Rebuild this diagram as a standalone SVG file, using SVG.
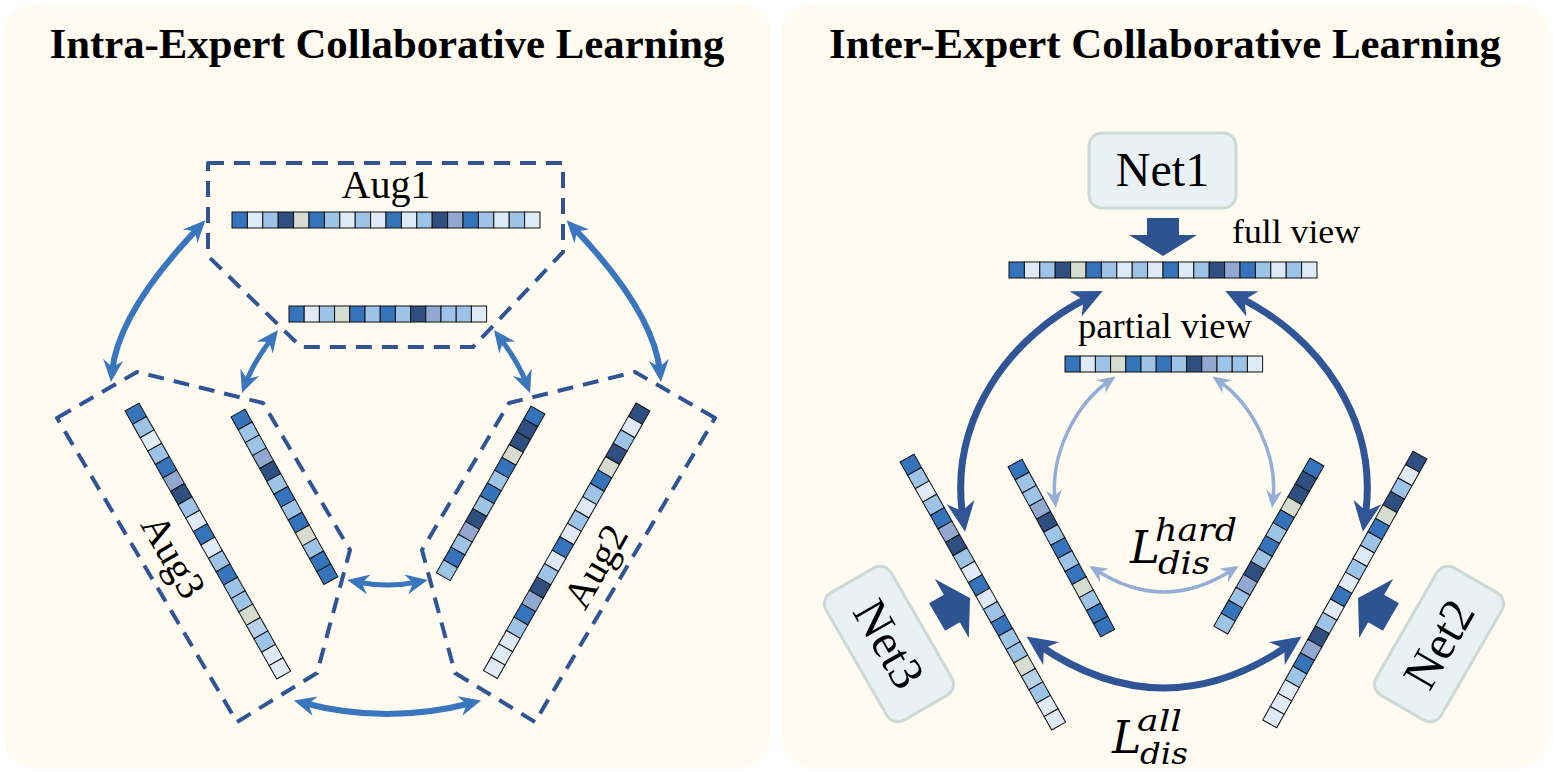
<svg xmlns="http://www.w3.org/2000/svg" width="1553" height="772" viewBox="0 0 1553 772">
<style>
.panel{fill:#FFFBF1}
.title{font-family:"Liberation Serif",serif;font-weight:bold;font-size:42px;fill:#000}
.lbl{font-family:"Liberation Serif",serif;fill:#000}
.math{font-family:"DejaVu Serif",serif;font-style:italic;fill:#000}
.cell{stroke:#111;stroke-width:1}
.a{fill:#3573BA}.b{fill:#DEEAF6}.c{fill:#9DC3E6}.d{fill:#2F4F80}.e{fill:#D6DCCF}.f{fill:#93A8D0}.g{fill:#B9D2EC}
.dash{fill:none;stroke:#2F5597;stroke-width:4;stroke-dasharray:16 10;stroke-linejoin:round}
.arrL{fill:none;stroke:#3A76BE;stroke-width:6;marker-start:url(#mL);marker-end:url(#mL)}
.arrLs{fill:none;stroke:#3A76BE;stroke-width:5;marker-start:url(#mL);marker-end:url(#mL)}
.arrD{fill:none;stroke:#2F5597;stroke-width:7;marker-start:url(#mD);marker-end:url(#mD)}
.arrT{fill:none;stroke:#95AED6;stroke-width:3.5;marker-start:url(#mT);marker-end:url(#mT)}
.netbox{fill:#EAF1F5;stroke:#CCD9D5;stroke-width:3}
.blk{fill:#2E5391}
</style>
<defs>
<marker id="mL" markerUnits="userSpaceOnUse" viewBox="-24 -12 26 24" markerWidth="26" markerHeight="24" refX="-10" refY="0" orient="auto-start-reverse"><path d="M0,0 L-22,-10 L-15,0 L-22,10 Z" fill="#3A76BE"/></marker>
<marker id="mD" markerUnits="userSpaceOnUse" viewBox="-32 -16 34 32" markerWidth="34" markerHeight="32" refX="-14" refY="0" orient="auto-start-reverse"><path d="M0,0 L-30,-14 L-21,0 L-30,14 Z" fill="#2F5597"/></marker>
<marker id="mT" markerUnits="userSpaceOnUse" viewBox="-20 -10 22 20" markerWidth="22" markerHeight="20" refX="-8" refY="0" orient="auto-start-reverse"><path d="M0,0 L-18,-8 L-12,0 L-18,8 Z" fill="#95AED6"/></marker>
<g id="barH20">
<rect class="cell a" x="0" y="-8" width="15.4" height="16"/><rect class="cell b" x="15.4" y="-8" width="15.4" height="16"/><rect class="cell c" x="30.8" y="-8" width="15.4" height="16"/><rect class="cell d" x="46.2" y="-8" width="15.4" height="16"/><rect class="cell e" x="61.6" y="-8" width="15.4" height="16"/><rect class="cell a" x="77" y="-8" width="15.4" height="16"/><rect class="cell c" x="92.4" y="-8" width="15.4" height="16"/><rect class="cell b" x="107.8" y="-8" width="15.4" height="16"/><rect class="cell c" x="123.2" y="-8" width="15.4" height="16"/><rect class="cell b" x="138.6" y="-8" width="15.4" height="16"/><rect class="cell a" x="154" y="-8" width="15.4" height="16"/><rect class="cell b" x="169.4" y="-8" width="15.4" height="16"/><rect class="cell c" x="184.8" y="-8" width="15.4" height="16"/><rect class="cell d" x="200.2" y="-8" width="15.4" height="16"/><rect class="cell f" x="215.6" y="-8" width="15.4" height="16"/><rect class="cell a" x="231" y="-8" width="15.4" height="16"/><rect class="cell c" x="246.4" y="-8" width="15.4" height="16"/><rect class="cell b" x="261.8" y="-8" width="15.4" height="16"/><rect class="cell c" x="277.2" y="-8" width="15.4" height="16"/><rect class="cell b" x="292.6" y="-8" width="15.4" height="16"/>
</g>
<g id="barH13">
<rect class="cell a" x="0" y="-8" width="15.2" height="16"/><rect class="cell b" x="15.2" y="-8" width="15.2" height="16"/><rect class="cell c" x="30.4" y="-8" width="15.2" height="16"/><rect class="cell e" x="45.6" y="-8" width="15.2" height="16"/><rect class="cell a" x="60.8" y="-8" width="15.2" height="16"/><rect class="cell c" x="76" y="-8" width="15.2" height="16"/><rect class="cell a" x="91.2" y="-8" width="15.2" height="16"/><rect class="cell c" x="106.4" y="-8" width="15.2" height="16"/><rect class="cell d" x="121.6" y="-8" width="15.2" height="16"/><rect class="cell f" x="136.8" y="-8" width="15.2" height="16"/><rect class="cell c" x="152" y="-8" width="15.2" height="16"/><rect class="cell c" x="167.2" y="-8" width="15.2" height="16"/><rect class="cell b" x="182.4" y="-8" width="15.2" height="16"/>
</g>
<g id="barL20">
<rect class="cell a" x="0" y="-8" width="15.4" height="16"/><rect class="cell c" x="15.4" y="-8" width="15.4" height="16"/><rect class="cell b" x="30.8" y="-8" width="15.4" height="16"/><rect class="cell c" x="46.2" y="-8" width="15.4" height="16"/><rect class="cell a" x="61.6" y="-8" width="15.4" height="16"/><rect class="cell f" x="77" y="-8" width="15.4" height="16"/><rect class="cell d" x="92.4" y="-8" width="15.4" height="16"/><rect class="cell c" x="107.8" y="-8" width="15.4" height="16"/><rect class="cell b" x="123.2" y="-8" width="15.4" height="16"/><rect class="cell a" x="138.6" y="-8" width="15.4" height="16"/><rect class="cell b" x="154" y="-8" width="15.4" height="16"/><rect class="cell c" x="169.4" y="-8" width="15.4" height="16"/><rect class="cell a" x="184.8" y="-8" width="15.4" height="16"/><rect class="cell c" x="200.2" y="-8" width="15.4" height="16"/><rect class="cell c" x="215.6" y="-8" width="15.4" height="16"/><rect class="cell e" x="231" y="-8" width="15.4" height="16"/><rect class="cell g" x="246.4" y="-8" width="15.4" height="16"/><rect class="cell c" x="261.8" y="-8" width="15.4" height="16"/><rect class="cell b" x="277.2" y="-8" width="15.4" height="16"/><rect class="cell b" x="292.6" y="-8" width="15.4" height="16"/>
</g>
<g id="barL13">
<rect class="cell a" x="0" y="-8" width="15.2" height="16"/><rect class="cell c" x="15.2" y="-8" width="15.2" height="16"/><rect class="cell c" x="30.4" y="-8" width="15.2" height="16"/><rect class="cell f" x="45.6" y="-8" width="15.2" height="16"/><rect class="cell d" x="60.8" y="-8" width="15.2" height="16"/><rect class="cell c" x="76" y="-8" width="15.2" height="16"/><rect class="cell a" x="91.2" y="-8" width="15.2" height="16"/><rect class="cell c" x="106.4" y="-8" width="15.2" height="16"/><rect class="cell a" x="121.6" y="-8" width="15.2" height="16"/><rect class="cell e" x="136.8" y="-8" width="15.2" height="16"/><rect class="cell c" x="152" y="-8" width="15.2" height="16"/><rect class="cell a" x="167.2" y="-8" width="15.2" height="16"/><rect class="cell a" x="182.4" y="-8" width="15.2" height="16"/>
</g>
<g id="barR13">
<rect class="cell a" x="0" y="-8" width="15.2" height="16"/><rect class="cell d" x="15.2" y="-8" width="15.2" height="16"/><rect class="cell d" x="30.4" y="-8" width="15.2" height="16"/><rect class="cell e" x="45.6" y="-8" width="15.2" height="16"/><rect class="cell a" x="60.8" y="-8" width="15.2" height="16"/><rect class="cell c" x="76" y="-8" width="15.2" height="16"/><rect class="cell a" x="91.2" y="-8" width="15.2" height="16"/><rect class="cell c" x="106.4" y="-8" width="15.2" height="16"/><rect class="cell d" x="121.6" y="-8" width="15.2" height="16"/><rect class="cell f" x="136.8" y="-8" width="15.2" height="16"/><rect class="cell c" x="152" y="-8" width="15.2" height="16"/><rect class="cell a" x="167.2" y="-8" width="15.2" height="16"/><rect class="cell c" x="182.4" y="-8" width="15.2" height="16"/>
</g>
<g id="barR20">
<rect class="cell d" x="0" y="-8" width="15.4" height="16"/><rect class="cell b" x="15.4" y="-8" width="15.4" height="16"/><rect class="cell c" x="30.8" y="-8" width="15.4" height="16"/><rect class="cell d" x="46.2" y="-8" width="15.4" height="16"/><rect class="cell e" x="61.6" y="-8" width="15.4" height="16"/><rect class="cell a" x="77" y="-8" width="15.4" height="16"/><rect class="cell c" x="92.4" y="-8" width="15.4" height="16"/><rect class="cell b" x="107.8" y="-8" width="15.4" height="16"/><rect class="cell c" x="123.2" y="-8" width="15.4" height="16"/><rect class="cell b" x="138.6" y="-8" width="15.4" height="16"/><rect class="cell a" x="154" y="-8" width="15.4" height="16"/><rect class="cell b" x="169.4" y="-8" width="15.4" height="16"/><rect class="cell c" x="184.8" y="-8" width="15.4" height="16"/><rect class="cell d" x="200.2" y="-8" width="15.4" height="16"/><rect class="cell f" x="215.6" y="-8" width="15.4" height="16"/><rect class="cell a" x="231" y="-8" width="15.4" height="16"/><rect class="cell c" x="246.4" y="-8" width="15.4" height="16"/><rect class="cell b" x="261.8" y="-8" width="15.4" height="16"/><rect class="cell b" x="277.2" y="-8" width="15.4" height="16"/><rect class="cell b" x="292.6" y="-8" width="15.4" height="16"/>
</g>
<polygon id="blkArrow" class="blk" points="0,0 -21,-34 -21,-16 -38,-16 -38,16 -21,16 -21,34"/>
</defs>

<rect id="panel-left" class="panel" x="3" y="3" width="768" height="766" rx="35"/>
<rect id="panel-right" class="panel" x="781" y="3" width="769" height="766" rx="35"/>

<text id="title-left" class="title" x="387" y="58" text-anchor="middle" textLength="675" lengthAdjust="spacingAndGlyphs">Intra-Expert Collaborative Learning</text>
<text id="title-right" class="title" x="1165" y="58" text-anchor="middle" textLength="672" lengthAdjust="spacingAndGlyphs">Inter-Expert Collaborative Learning</text>

<g id="aug1">
<path class="dash" d="M208 163 L563 163 L563 252 L473 347 L301 347 L208 256 Z"/>
<text class="lbl" x="386" y="198" font-size="40" text-anchor="middle">Aug1</text>
<use href="#barH20" transform="translate(232,220)"/>
<use href="#barH13" transform="translate(289,314)"/>
</g>
<g id="aug3">
<path class="dash" d="M57 418 L137 372 L263 403 L350 550 L317 673 L237 722 Z"/>
<use href="#barL20" transform="translate(132,407) rotate(60.5)"/>
<use href="#barL13" transform="translate(238,413) rotate(61) scale(0.97,1)"/>
<text class="lbl" font-size="40" text-anchor="middle" transform="translate(174,556) rotate(60)" y="14">Aug3</text>
</g>
<g id="aug2">
<path class="dash" d="M715 418 L635 372 L509 403 L422 550 L455 673 L535 722 Z"/>
<use href="#barR20" transform="translate(643,407) rotate(119.7)"/>
<use href="#barR13" transform="translate(538,410) rotate(119.6) scale(0.97,1)"/>
<text class="lbl" font-size="40" text-anchor="middle" transform="translate(595,566) rotate(-60)" y="14">Aug2</text>
</g>

<g id="net1">
<rect class="netbox" x="1089" y="133" width="147" height="75" rx="13"/>
<text class="lbl" x="1162.5" y="186" font-size="48" text-anchor="middle">Net1</text>
<use href="#blkArrow" transform="translate(1163,256) rotate(90)"/>
</g>
<g id="net3">
<g transform="translate(889,644) rotate(60)">
<rect class="netbox" x="-73.5" y="-37.5" width="147" height="75" rx="13"/>
<text class="lbl" x="0" y="16" font-size="48" text-anchor="middle">Net3</text>
</g>
<use href="#blkArrow" transform="translate(970,598) rotate(-30)"/>
</g>
<g id="net2">
<g transform="translate(1439,644) rotate(-60)">
<rect class="netbox" x="-73.5" y="-37.5" width="147" height="75" rx="13"/>
<text class="lbl" x="0" y="16" font-size="48" text-anchor="middle">Net2</text>
</g>
<use href="#blkArrow" transform="translate(1358,598) rotate(-150)"/>
</g>

<g id="views">
<use href="#barH20" transform="translate(1009,270)"/>
<text class="lbl" x="1232" y="243" font-size="34" textLength="128" lengthAdjust="spacingAndGlyphs">full view</text>
<use href="#barH13" transform="translate(1065,364)"/>
<text class="lbl" x="1078" y="338" font-size="35" textLength="174" lengthAdjust="spacingAndGlyphs">partial view</text>
<use href="#barL20" transform="translate(907,458) rotate(60.5)"/>
<use href="#barL13" transform="translate(1015,463) rotate(61.4) scale(0.98,1)"/>
<use href="#barR13" transform="translate(1317,462) rotate(119.8) scale(0.98,1)"/>
<use href="#barR20" transform="translate(1420,455) rotate(119.2)"/>
</g>

<g id="connectors">
<path class="arrL" d="M198.5 227.6 C160 268, 117 322, 112 372"/>
<path class="arrL" d="M573.5 227.6 C612 268, 655 322, 660 372"/>
<path class="arrLs" d="M272 338 C260 354, 250 371.6, 245.5 383.6"/>
<path class="arrLs" d="M500 338 C512 354, 522 371.6, 526.5 383.6"/>
<path class="arrLs" d="M357 582 Q387.5 588 418 582"/>
<path class="arrL" d="M303.5 703 Q387 725 471.5 703"/>
<path class="arrD" d="M1090 297 C1010 335, 948 420, 963 518"/>
<path class="arrD" d="M1238 297 C1318 335, 1380 420, 1365 518"/>
<path class="arrD" d="M1038 644.5 Q1164 731.5 1290 644.5"/>
<path class="arrT" d="M1109 381 C1075 405, 1050 455, 1055 500"/>
<path class="arrT" d="M1219 381 C1253 405, 1278 455, 1273 500"/>
<path class="arrT" d="M1096 570 Q1164 614 1232 570"/>
</g>

<g id="loss-labels">
<text class="math" x="1130" y="563" font-size="45">L</text>
<text class="math" x="1155" y="541" font-size="31" textLength="82" lengthAdjust="spacingAndGlyphs">hard</text>
<text class="math" x="1158" y="574" font-size="31" textLength="52" lengthAdjust="spacingAndGlyphs">dis</text>
<text class="math" x="1112" y="753" font-size="44">L</text>
<text class="math" x="1137" y="731" font-size="30" textLength="45" lengthAdjust="spacingAndGlyphs">all</text>
<text class="math" x="1140" y="764" font-size="30" textLength="48" lengthAdjust="spacingAndGlyphs">dis</text>
</g>
</svg>
